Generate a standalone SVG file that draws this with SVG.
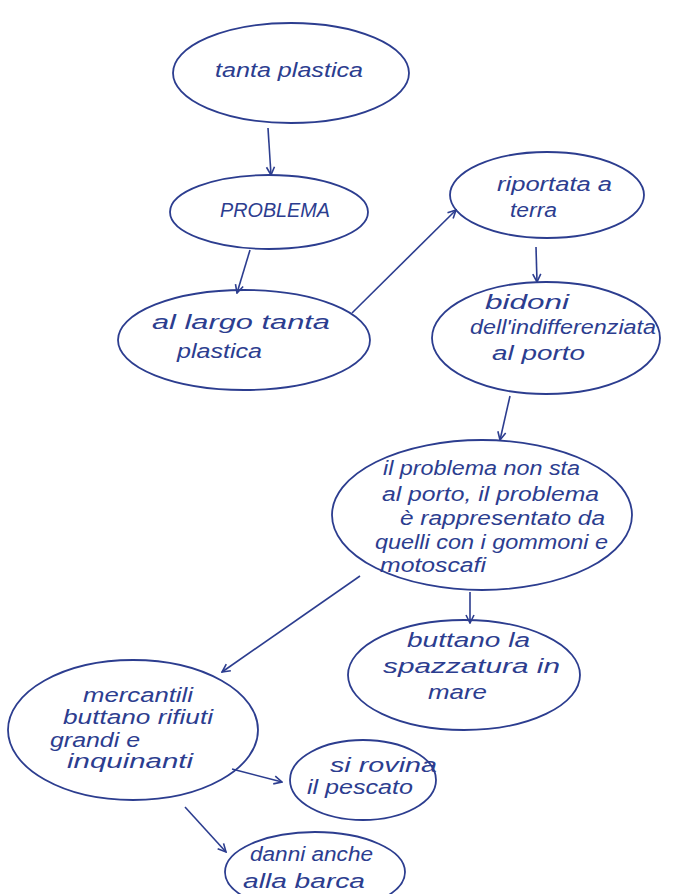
<svg xmlns="http://www.w3.org/2000/svg" width="685" height="894" viewBox="0 0 685 894">
<style>
.n{fill:none;stroke:#2c3d8f;stroke-width:1.8}
.t{font-family:"Liberation Sans","DejaVu Sans",sans-serif;font-size:20px;fill:#2c3d8f;font-style:italic}
.e{fill:none;stroke:#2c3d8f;stroke-width:1.6}
</style>
<defs>
<marker id="a" viewBox="0 0 10 10" refX="9" refY="5" markerWidth="10" markerHeight="10" markerUnits="userSpaceOnUse" orient="auto">
<path d="M1,1 L9,5 L1,9" fill="none" stroke="#2c3d8f" stroke-width="1.6"/>
</marker>
</defs>
<rect width="685" height="894" fill="#ffffff"/>
<g id="connectors">
<line class="e" x1="268" y1="128" x2="271" y2="175" marker-end="url(#a)"/>
<line class="e" x1="250" y1="250" x2="237" y2="293" marker-end="url(#a)"/>
<line class="e" x1="352" y1="313" x2="456" y2="210" marker-end="url(#a)"/>
<line class="e" x1="536" y1="247" x2="537" y2="282" marker-end="url(#a)"/>
<line class="e" x1="510" y1="396" x2="500" y2="440" marker-end="url(#a)"/>
<line class="e" x1="470" y1="592" x2="470" y2="623" marker-end="url(#a)"/>
<line class="e" x1="360" y1="576" x2="222" y2="672" marker-end="url(#a)"/>
<line class="e" x1="232" y1="769" x2="282" y2="782" marker-end="url(#a)"/>
<line class="e" x1="185" y1="807" x2="226" y2="852" marker-end="url(#a)"/>
</g>
<g id="n1"><ellipse class="n" cx="291" cy="73" rx="118" ry="50"/><text class="t" x="215" y="77" font-size="21" textLength="148" lengthAdjust="spacingAndGlyphs">tanta plastica</text></g>
<g id="n2"><ellipse class="n" cx="269" cy="212" rx="99" ry="37"/><text class="t" x="220" y="217" font-style="normal" font-size="16" textLength="110" lengthAdjust="spacingAndGlyphs">PROBLEMA</text></g>
<g id="n3"><ellipse class="n" cx="244" cy="340" rx="126" ry="50"/><text class="t" x="152" y="329" textLength="178" lengthAdjust="spacingAndGlyphs">al largo tanta</text><text class="t" x="177" y="358" textLength="85" lengthAdjust="spacingAndGlyphs">plastica</text></g>
<g id="n4"><ellipse class="n" cx="547" cy="195" rx="97" ry="43"/><text class="t" x="497" y="191" textLength="115" lengthAdjust="spacingAndGlyphs">riportata a</text><text class="t" x="510" y="217" textLength="47" lengthAdjust="spacingAndGlyphs">terra</text></g>
<g id="n5"><ellipse class="n" cx="546" cy="338" rx="114" ry="56"/><text class="t" x="485" y="309" textLength="84" lengthAdjust="spacingAndGlyphs">bidoni</text><text class="t" x="470" y="334" textLength="186" lengthAdjust="spacingAndGlyphs">dell'indifferenziata</text><text class="t" x="492" y="360" textLength="93" lengthAdjust="spacingAndGlyphs">al porto</text></g>
<g id="n6"><ellipse class="n" cx="482" cy="515" rx="150" ry="75"/><text class="t" x="383" y="475" textLength="197" lengthAdjust="spacingAndGlyphs">il problema non sta</text><text class="t" x="382" y="501" textLength="217" lengthAdjust="spacingAndGlyphs">al porto, il problema</text><text class="t" x="400" y="525" textLength="205" lengthAdjust="spacingAndGlyphs">è rappresentato da</text><text class="t" x="375" y="549" textLength="233" lengthAdjust="spacingAndGlyphs">quelli con i gommoni e</text><text class="t" x="380" y="572" textLength="106" lengthAdjust="spacingAndGlyphs">motoscafi</text></g>
<g id="n7"><ellipse class="n" cx="464" cy="675" rx="116" ry="55"/><text class="t" x="407" y="647" textLength="123" lengthAdjust="spacingAndGlyphs">buttano la</text><text class="t" x="383" y="673" textLength="177" lengthAdjust="spacingAndGlyphs">spazzatura in</text><text class="t" x="428" y="699" textLength="59" lengthAdjust="spacingAndGlyphs">mare</text></g>
<g id="n8"><ellipse class="n" cx="133" cy="730" rx="125" ry="70"/><text class="t" x="83" y="702" textLength="110" lengthAdjust="spacingAndGlyphs">mercantili</text><text class="t" x="63" y="724" textLength="150" lengthAdjust="spacingAndGlyphs">buttano rifiuti</text><text class="t" x="50" y="747" textLength="90" lengthAdjust="spacingAndGlyphs">grandi e</text><text class="t" x="67" y="768" textLength="126" lengthAdjust="spacingAndGlyphs">inquinanti</text></g>
<g id="n9"><ellipse class="n" cx="363" cy="780" rx="73" ry="40"/><text class="t" x="330" y="772" textLength="107" lengthAdjust="spacingAndGlyphs">si rovina</text><text class="t" x="307" y="794" textLength="106" lengthAdjust="spacingAndGlyphs">il pescato</text></g>
<g id="n10"><ellipse class="n" cx="315" cy="872" rx="90" ry="40"/><text class="t" x="250" y="861" textLength="123" lengthAdjust="spacingAndGlyphs">danni anche</text><text class="t" x="243" y="888" textLength="122" lengthAdjust="spacingAndGlyphs">alla barca</text></g>
</svg>
